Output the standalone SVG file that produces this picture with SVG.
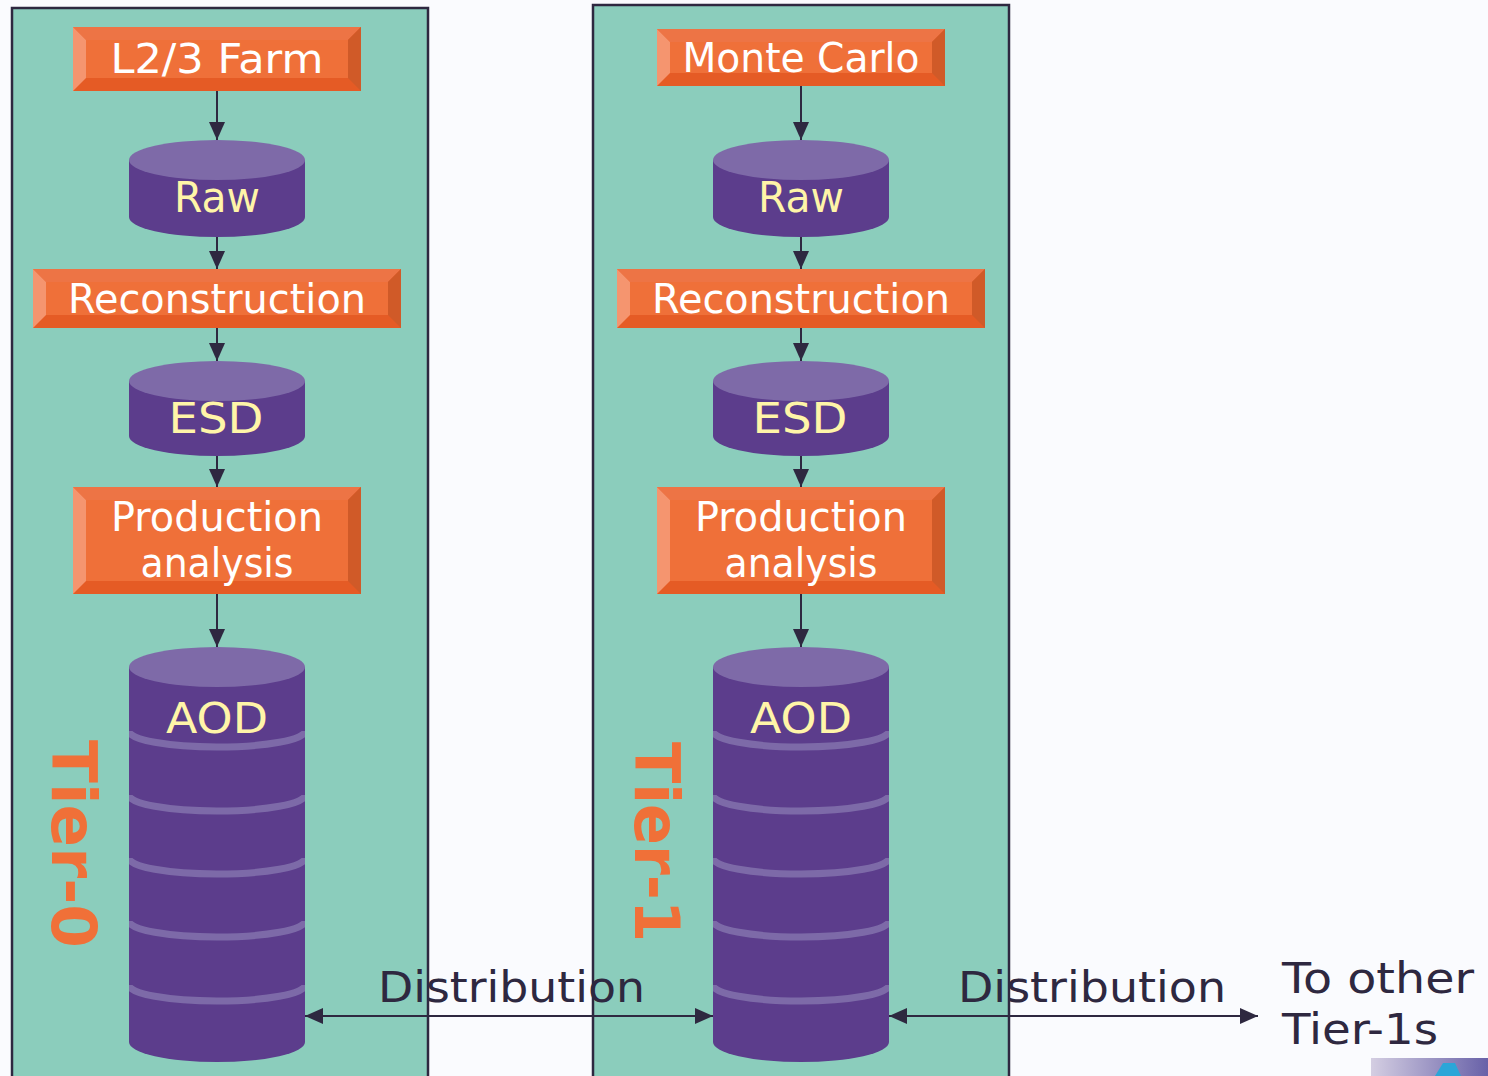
<svg xmlns="http://www.w3.org/2000/svg" width="1488" height="1076" viewBox="0 0 1488 1076">
<defs>
<style>
.panel{fill:#8bcdbc;stroke:#2e2840;stroke-width:2.5}
.bt{fill:#ed7445}.bb{fill:#e55b25}.bl{fill:#f5956f}.br{fill:#d05a28}.bf{fill:#ef7039}
.btxt{font-family:"DejaVu Sans",sans-serif;font-size:40px;fill:#ffffff;text-anchor:middle}
.cbody{fill:#5c3d8c}.ctop{fill:#7e6aa8}
.band{fill:none;stroke:#7d6aa8;stroke-width:7}
.ctxt{font-family:"DejaVu Sans",sans-serif;font-size:42px;fill:#fff5a8;text-anchor:middle}
.conn{stroke:#2e2840;stroke-width:2;fill:none}
.dtxt{font-family:"DejaVu Sans",sans-serif;font-size:42px;fill:#2e2840}
.tier{font-family:"DejaVu Sans",sans-serif;font-size:62px;font-weight:bold;fill:#f07038;text-anchor:middle}
</style>
<marker id="ah" viewBox="0 0 18 16" refX="18" refY="8" markerWidth="18" markerHeight="16" markerUnits="userSpaceOnUse" orient="auto-start-reverse">
<path d="M0,0 L18,8 L0,16 Z" fill="#2e2840"/>
</marker>
<clipPath id="clip0" clipPathUnits="userSpaceOnUse"><rect x="129" y="640" width="176" height="430"/></clipPath>
<clipPath id="clip1" clipPathUnits="userSpaceOnUse"><rect x="713" y="640" width="176" height="430"/></clipPath>
<linearGradient id="strip" x1="0" y1="0" x2="1" y2="0">
<stop offset="0" stop-color="#d4cee2"/>
<stop offset="1" stop-color="#6861a8"/>
</linearGradient>
</defs>
<rect width="1488" height="1076" fill="#fafbfe"/>

<g id="tier0-panel"><rect class="panel" x="12" y="8" width="416" height="1080"/></g>
<g id="tier1-panel"><rect class="panel" x="593" y="5" width="416" height="1083"/></g>

<g id="connectors">
<line class="conn" x1="217" y1="91" x2="217" y2="140" marker-end="url(#ah)"/>
<line class="conn" x1="217" y1="237" x2="217" y2="269" marker-end="url(#ah)"/>
<line class="conn" x1="217" y1="328" x2="217" y2="361" marker-end="url(#ah)"/>
<line class="conn" x1="217" y1="456" x2="217" y2="487" marker-end="url(#ah)"/>
<line class="conn" x1="217" y1="594" x2="217" y2="647" marker-end="url(#ah)"/>
<line class="conn" x1="801" y1="86" x2="801" y2="140" marker-end="url(#ah)"/>
<line class="conn" x1="801" y1="237" x2="801" y2="269" marker-end="url(#ah)"/>
<line class="conn" x1="801" y1="328" x2="801" y2="361" marker-end="url(#ah)"/>
<line class="conn" x1="801" y1="456" x2="801" y2="487" marker-end="url(#ah)"/>
<line class="conn" x1="801" y1="594" x2="801" y2="647" marker-end="url(#ah)"/>
<line class="conn" x1="305" y1="1016" x2="713" y2="1016" marker-start="url(#ah)" marker-end="url(#ah)"/>
<line class="conn" x1="889" y1="1016" x2="1258" y2="1016" marker-start="url(#ah)" marker-end="url(#ah)"/>
<text class="dtxt" x="378" y="1002" textLength="267" lengthAdjust="spacingAndGlyphs">Distribution</text>
<text class="dtxt" x="958" y="1002" textLength="268" lengthAdjust="spacingAndGlyphs">Distribution</text>
</g>

<!-- Tier-0 column -->
<g id="l23farm">
<rect class="bb" x="73" y="27" width="288" height="64"/>
<polygon class="bt" points="73,27 361,27 348,40 86,40"/>
<polygon class="bl" points="73,27 86,40 86,78 73,91"/>
<polygon class="br" points="361,27 348,40 348,78 361,91"/>
<rect class="bf" x="86" y="40" width="262" height="38"/>
<text class="btxt" x="217" y="73" textLength="213" lengthAdjust="spacingAndGlyphs">L2/3 Farm</text>
</g>
<g id="raw0">
<path class="cbody" d="M129,160 L129,217 A88,20 0 0 0 305,217 L305,160 Z"/>
<ellipse class="ctop" cx="217" cy="160" rx="88" ry="20"/>
<text class="ctxt" x="217" y="212" textLength="86" lengthAdjust="spacingAndGlyphs">Raw</text>
</g>
<g id="reco0">
<rect class="bb" x="33" y="269" width="368" height="59"/>
<polygon class="bt" points="33,269 401,269 388,282 46,282"/>
<polygon class="bl" points="33,269 46,282 46,315 33,328"/>
<polygon class="br" points="401,269 388,282 388,315 401,328"/>
<rect class="bf" x="46" y="282" width="342" height="33"/>
<text class="btxt" x="217" y="313" textLength="298" lengthAdjust="spacingAndGlyphs">Reconstruction</text>
</g>
<g id="esd0">
<path class="cbody" d="M129,381 L129,436 A88,20 0 0 0 305,436 L305,381 Z"/>
<ellipse class="ctop" cx="217" cy="381" rx="88" ry="20"/>
<text class="ctxt" x="216" y="433" textLength="95" lengthAdjust="spacingAndGlyphs">ESD</text>
</g>
<g id="prod0">
<rect class="bb" x="73" y="487" width="288" height="107"/>
<polygon class="bt" points="73,487 361,487 348,500 86,500"/>
<polygon class="bl" points="73,487 86,500 86,581 73,594"/>
<polygon class="br" points="361,487 348,500 348,581 361,594"/>
<rect class="bf" x="86" y="500" width="262" height="81"/>
<text class="btxt" x="217" y="531" textLength="212" lengthAdjust="spacingAndGlyphs">Production</text>
<text class="btxt" x="217" y="577" textLength="153" lengthAdjust="spacingAndGlyphs">analysis</text>
</g>
<g id="aod0">
<path class="cbody" d="M129,667 L129,1042 A88,20 0 0 0 305,1042 L305,667 Z"/>
<ellipse class="ctop" cx="217" cy="667" rx="88" ry="20"/>
<g clip-path="url(#clip0)">
<path class="band" d="M129,731 A88,16 0 0 0 305,731"/>
<path class="band" d="M129,795 A88,16 0 0 0 305,795"/>
<path class="band" d="M129,858 A88,16 0 0 0 305,858"/>
<path class="band" d="M129,921 A88,16 0 0 0 305,921"/>
<path class="band" d="M129,985 A88,16 0 0 0 305,985"/>
</g>
<text class="ctxt" x="217" y="733" textLength="102" lengthAdjust="spacingAndGlyphs">AOD</text>
</g>
<g id="tier0-label">
<text class="tier" transform="translate(52,844) rotate(90)" textLength="208" lengthAdjust="spacingAndGlyphs">Tier-0</text>
</g>

<!-- Tier-1 column -->
<g id="montecarlo">
<rect class="bb" x="657" y="29" width="288" height="57"/>
<polygon class="bt" points="657,29 945,29 932,42 670,42"/>
<polygon class="bl" points="657,29 670,42 670,73 657,86"/>
<polygon class="br" points="945,29 932,42 932,73 945,86"/>
<rect class="bf" x="670" y="42" width="262" height="31"/>
<text class="btxt" x="801" y="72" textLength="237" lengthAdjust="spacingAndGlyphs">Monte Carlo</text>
</g>
<g id="raw1">
<path class="cbody" d="M713,160 L713,217 A88,20 0 0 0 889,217 L889,160 Z"/>
<ellipse class="ctop" cx="801" cy="160" rx="88" ry="20"/>
<text class="ctxt" x="801" y="212" textLength="86" lengthAdjust="spacingAndGlyphs">Raw</text>
</g>
<g id="reco1">
<rect class="bb" x="617" y="269" width="368" height="59"/>
<polygon class="bt" points="617,269 985,269 972,282 630,282"/>
<polygon class="bl" points="617,269 630,282 630,315 617,328"/>
<polygon class="br" points="985,269 972,282 972,315 985,328"/>
<rect class="bf" x="630" y="282" width="342" height="33"/>
<text class="btxt" x="801" y="313" textLength="298" lengthAdjust="spacingAndGlyphs">Reconstruction</text>
</g>
<g id="esd1">
<path class="cbody" d="M713,381 L713,436 A88,20 0 0 0 889,436 L889,381 Z"/>
<ellipse class="ctop" cx="801" cy="381" rx="88" ry="20"/>
<text class="ctxt" x="800" y="433" textLength="95" lengthAdjust="spacingAndGlyphs">ESD</text>
</g>
<g id="prod1">
<rect class="bb" x="657" y="487" width="288" height="107"/>
<polygon class="bt" points="657,487 945,487 932,500 670,500"/>
<polygon class="bl" points="657,487 670,500 670,581 657,594"/>
<polygon class="br" points="945,487 932,500 932,581 945,594"/>
<rect class="bf" x="670" y="500" width="262" height="81"/>
<text class="btxt" x="801" y="531" textLength="212" lengthAdjust="spacingAndGlyphs">Production</text>
<text class="btxt" x="801" y="577" textLength="153" lengthAdjust="spacingAndGlyphs">analysis</text>
</g>
<g id="aod1">
<path class="cbody" d="M713,667 L713,1042 A88,20 0 0 0 889,1042 L889,667 Z"/>
<ellipse class="ctop" cx="801" cy="667" rx="88" ry="20"/>
<g clip-path="url(#clip1)">
<path class="band" d="M713,731 A88,16 0 0 0 889,731"/>
<path class="band" d="M713,795 A88,16 0 0 0 889,795"/>
<path class="band" d="M713,858 A88,16 0 0 0 889,858"/>
<path class="band" d="M713,921 A88,16 0 0 0 889,921"/>
<path class="band" d="M713,985 A88,16 0 0 0 889,985"/>
</g>
<text class="ctxt" x="801" y="733" textLength="102" lengthAdjust="spacingAndGlyphs">AOD</text>
</g>
<g id="tier1-label">
<text class="tier" transform="translate(635,842) rotate(90)" textLength="200" lengthAdjust="spacingAndGlyphs">Tier-1</text>
</g>

<g id="other-tier1s">
<text class="dtxt" x="1282" y="993" textLength="192" lengthAdjust="spacingAndGlyphs">To other</text>
<text class="dtxt" x="1282" y="1044" textLength="156" lengthAdjust="spacingAndGlyphs">Tier-1s</text>
</g>

<g id="corner-strip">
<rect x="1371" y="1058" width="117" height="18" fill="url(#strip)"/>
<polygon points="1435,1076 1443,1063 1455,1063 1461,1076" fill="#2ba6d8"/>
</g>
</svg>
